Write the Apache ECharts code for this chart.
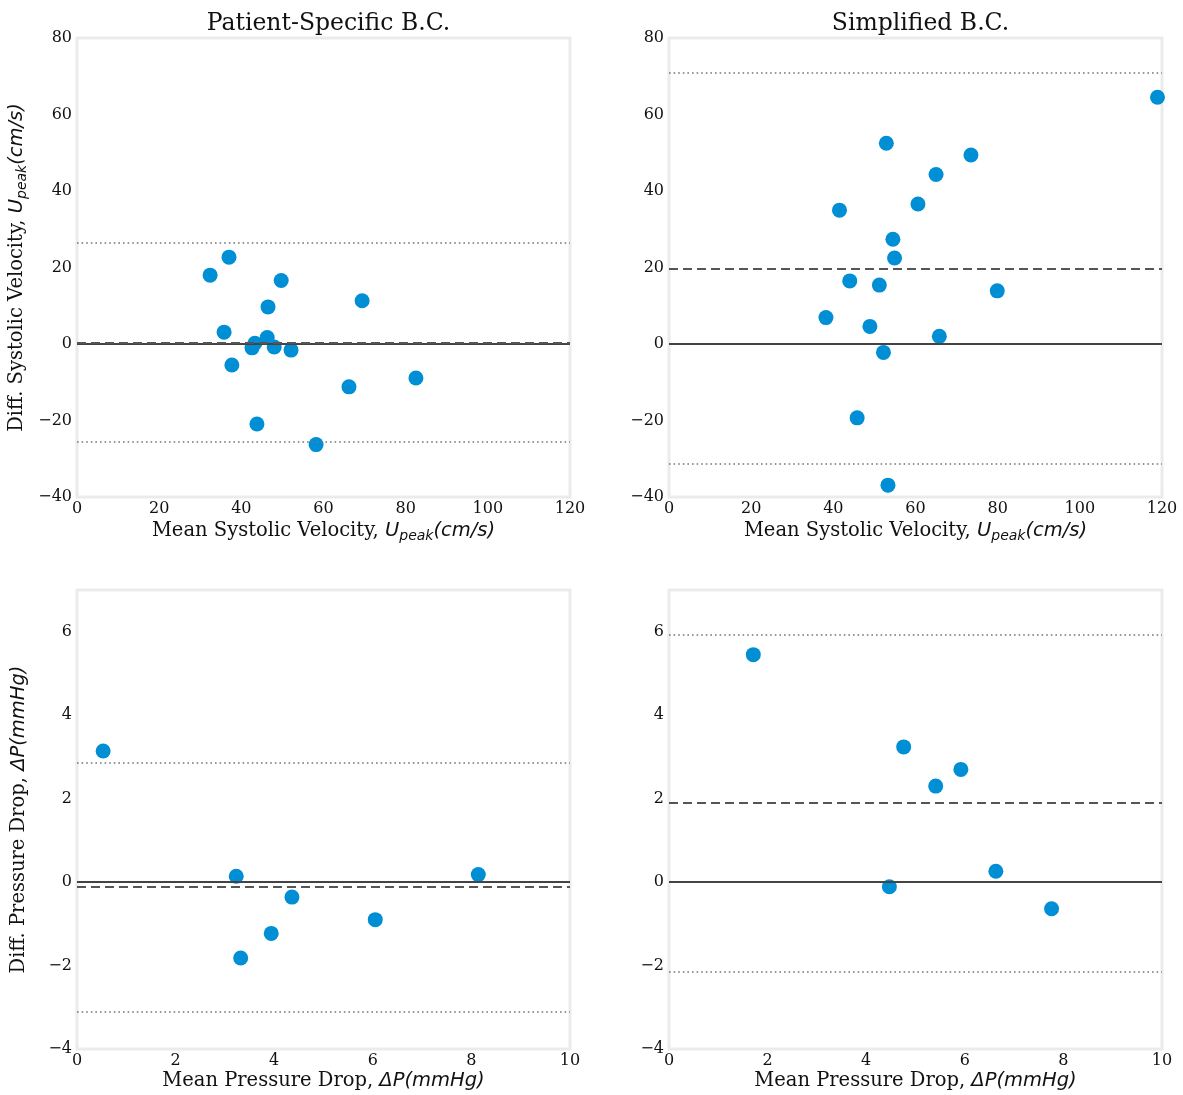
<!DOCTYPE html>
<html>
<head>
<meta charset="utf-8">
<script src="https://cdn.jsdelivr.net/npm/echarts@6/dist/echarts.min.js"></script>
<style>
  html, body { margin: 0; padding: 0; background: #ffffff; }
  #chart { width: 1183px; height: 1095px; }
</style>
</head>
<body>
<div id="chart"></div>
<script>
// Bland–Altman agreement plots: velocity (top) and pressure drop (bottom)

// Peak systolic velocity, patient-specific boundary conditions
const velPatientMean = [32.4, 37.0, 35.8, 37.7, 49.7, 46.5, 46.3, 43.3, 42.6, 48.0, 52.1, 69.4, 66.2, 82.5, 43.8, 58.2];
const velPatientDiff = [18.0, 22.7, 3.1, -5.5, 16.6, 9.7, 1.7, 0.2, -1.0, -0.8, -1.6, 11.3, -11.2, -8.9, -20.9, -26.3];
const velPatientLines = { mean: 0.4, upper: 26.4, lower: -25.6 };

// Peak systolic velocity, simplified boundary conditions
const velSimpleMean = [52.9, 73.5, 65.0, 60.6, 41.5, 54.5, 54.9, 44.0, 51.2, 79.9, 38.2, 48.9, 65.8, 52.2, 45.8, 53.3, 118.9];
const velSimpleDiff = [52.5, 49.4, 44.3, 36.6, 35.0, 27.4, 22.5, 16.5, 15.4, 13.9, 6.9, 4.6, 2.0, -2.2, -19.3, -36.9, 64.5];
const velSimpleLines = { mean: 19.7, upper: 70.8, lower: -31.3 };

// Pressure drop, patient-specific boundary conditions
const dpPatientMean = [0.53, 3.23, 3.32, 3.94, 4.36, 6.05, 8.14];
const dpPatientDiff = [3.14, 0.14, -1.82, -1.23, -0.36, -0.90, 0.18];
const dpPatientLines = { mean: -0.12, upper: 2.86, lower: -3.11 };

// Pressure drop, simplified boundary conditions
const dpSimpleMean = [1.71, 4.76, 5.41, 5.92, 4.47, 6.63, 7.76];
const dpSimpleDiff = [5.45, 3.24, 2.30, 2.70, -0.11, 0.26, -0.64];
const dpSimpleLines = { mean: 1.89, upper: 5.92, lower: -2.14 };

// Axis ranges and tick labels
const velXTicks = [0, 20, 40, 60, 80, 100, 120];
const velYTicks = [-40, -20, 0, 20, 40, 60, 80];
const dpXTicks = [0, 2, 4, 6, 8, 10];
const dpYTicks = [-4, -2, 0, 2, 4, 6];
const dpYMax = 7;

const panelTitles = ['Patient-Specific B.C.', 'Simplified B.C.'];

const SERIF = '"DejaVu Serif", serif';
const MATH = '"DejaVu Sans", sans-serif';
const DOT = '#008fd5';

const grids = [
  { left: 77, top: 38, width: 493, height: 459 },
  { left: 669, top: 38, width: 493, height: 459 },
  { left: 77, top: 590, width: 493, height: 459 },
  { left: 669, top: 590, width: 493, height: 459 }
].map(g => Object.assign(g, {
  show: true, backgroundColor: '#ffffff', borderColor: '#ebebeb', borderWidth: 3, containLabel: false
}));

const rich = {
  t: { fontFamily: SERIF, fontSize: 19.5, color: '#111' },
  m: { fontFamily: MATH, fontStyle: 'italic', fontSize: 19.5, color: '#111' },
  s: { fontFamily: MATH, fontStyle: 'italic', fontSize: 14, color: '#111', padding: [10, 0, 0, 0] }
};

const velName = '{t|Mean Systolic Velocity, }{m|U}{s|peak}{m|(cm/s)}';
const velYName = '{t|Diff. Systolic Velocity, }{m|U}{s|peak}{m|(cm/s)}';
const dpName = '{t|Mean Pressure Drop, }{m|ΔP(mmHg)}';
const dpYName = '{t|Diff. Pressure Drop, }{m|ΔP(mmHg)}';

function fmt(ticks) {
  return v => (ticks.indexOf(v) >= 0 ? String(v).replace('-', '\u2212') : '');
}

function xAxis(gridIndex, ticks, name) {
  return {
    type: 'value', gridIndex,
    min: ticks[0], max: ticks[ticks.length - 1], interval: ticks[1] - ticks[0],
    name, nameLocation: 'middle', nameGap: 22, nameTextStyle: { rich },
    axisLine: { show: false }, axisTick: { show: false }, splitLine: { show: false },
    axisLabel: { fontFamily: SERIF, fontSize: 16, color: '#111', margin: 4, formatter: fmt(ticks) }
  };
}

function yAxis(gridIndex, ticks, max, name) {
  return {
    type: 'value', gridIndex,
    min: ticks[0], max, interval: ticks[1] - ticks[0],
    name, nameLocation: 'middle', nameGap: 48, nameRotate: 90, nameTextStyle: { rich },
    axisLine: { show: false }, axisTick: { show: false }, splitLine: { show: false },
    axisLabel: { fontFamily: SERIF, fontSize: 16, color: '#111', margin: 5, formatter: fmt(ticks) }
  };
}

function panel(idx, xs, ys, lines) {
  return {
    type: 'scatter', xAxisIndex: idx, yAxisIndex: idx,
    data: xs.map((x, i) => [x, ys[i]]),
    symbolSize: 15, itemStyle: { color: DOT, opacity: 1 },
    z: 3,
    markLine: {
      silent: true, symbol: 'none', label: { show: false },
      data: [
        { yAxis: 0, lineStyle: { color: '#444', width: 2.2, type: 'solid' } },
        { yAxis: lines.mean, lineStyle: { color: '#555', width: 2.2, type: [9, 5] } },
        { yAxis: lines.upper, lineStyle: { color: '#777', width: 1.6, type: [1.6, 3] } },
        { yAxis: lines.lower, lineStyle: { color: '#777', width: 1.6, type: [1.6, 3] } }
      ]
    }
  };
}

const chart = echarts.init(document.getElementById('chart'), null, { renderer: 'canvas' });
chart.setOption({
  backgroundColor: '#ffffff',
  animation: false,
  title: [
    { text: panelTitles[0], left: 77 + 493 / 2, top: 7, textAlign: 'center',
      textStyle: { fontFamily: SERIF, fontSize: 23.5, fontWeight: 'normal', color: '#111' } },
    { text: panelTitles[1], left: 669 + 493 / 2, top: 7, textAlign: 'center',
      textStyle: { fontFamily: SERIF, fontSize: 23.5, fontWeight: 'normal', color: '#111' } }
  ],
  grid: grids,
  xAxis: [
    xAxis(0, velXTicks, velName),
    xAxis(1, velXTicks, velName),
    xAxis(2, dpXTicks, dpName),
    xAxis(3, dpXTicks, dpName)
  ],
  yAxis: [
    yAxis(0, velYTicks, velYTicks[velYTicks.length - 1], velYName),
    yAxis(1, velYTicks, velYTicks[velYTicks.length - 1], ''),
    yAxis(2, dpYTicks, dpYMax, dpYName),
    yAxis(3, dpYTicks, dpYMax, '')
  ],
  series: [
    panel(0, velPatientMean, velPatientDiff, velPatientLines),
    panel(1, velSimpleMean, velSimpleDiff, velSimpleLines),
    panel(2, dpPatientMean, dpPatientDiff, dpPatientLines),
    panel(3, dpSimpleMean, dpSimpleDiff, dpSimpleLines)
  ]
});
</script>
</body>
</html>
